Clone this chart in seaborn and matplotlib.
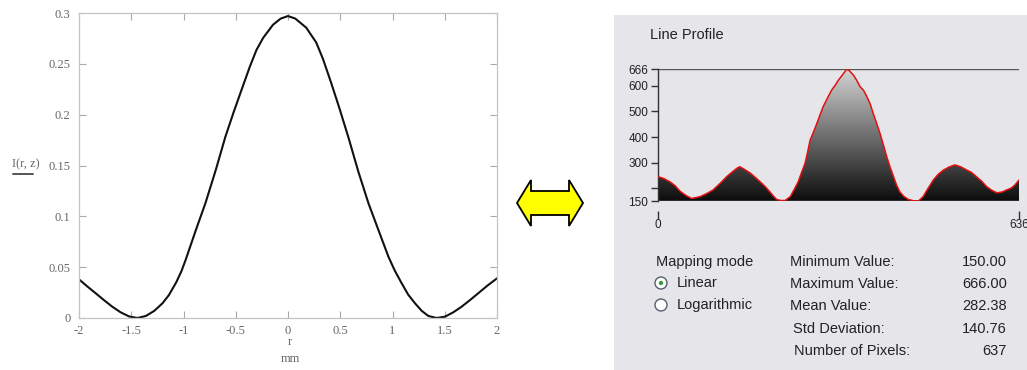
import numpy as np
import pandas as pd
import matplotlib
matplotlib.use("Agg")
import matplotlib.pyplot as plt
import seaborn as sns
from matplotlib.patches import Polygon, Circle, Rectangle
from matplotlib.colors import LinearSegmentedColormap

# ---------------- data ----------------
r_mm = [-2.0, -1.92, -1.84, -1.76, -1.68, -1.60, -1.52, -1.44, -1.36, -1.28, -1.20,
        -1.14, -1.07, -1.02, -0.98, -0.88, -0.79, -0.69, -0.60, -0.525, -0.446, -0.366,
        -0.302, -0.238, -0.143, -0.07, 0.0, 0.07, 0.175, 0.27, 0.334, 0.414, 0.493,
        0.58, 0.67, 0.77, 0.865, 0.961, 1.02, 1.088, 1.15, 1.216, 1.28, 1.343, 1.422,
        1.502, 1.58, 1.66, 1.74, 1.82, 1.91, 2.0]
intensity = [0.038, 0.031, 0.0243, 0.0175, 0.011, 0.0055, 0.0015, 0.0, 0.002, 0.007, 0.0146,
             0.0225, 0.035, 0.046, 0.057, 0.087, 0.113, 0.146, 0.178, 0.201, 0.224, 0.247,
             0.2636, 0.2755, 0.2885, 0.2945, 0.297, 0.2945, 0.2855, 0.271, 0.255, 0.231, 0.206,
             0.177, 0.145, 0.1128, 0.0866, 0.0603, 0.047, 0.0341, 0.023, 0.0144, 0.007, 0.002, 0.0,
             0.0013, 0.0055, 0.011, 0.0175, 0.0243, 0.032, 0.039]
x_ticks_left = [-2, -1.5, -1, -0.5, 0, 0.5, 1, 1.5, 2]
x_ticklabels_left = ["-2", "-1.5", "-1", "-0.5", "0", "0.5", "1", "1.5", "2"]
y_ticks_left = [0, 0.05, 0.1, 0.15, 0.2, 0.25, 0.3]
y_ticklabels_left = ["0", "0.05", "0.1", "0.15", "0.2", "0.25", "0.3"]

pixel_idx = [0, 10, 21, 30, 39, 49, 59, 66, 74, 85, 97, 110, 121, 130, 139, 144, 152, 162,
             171, 180, 189, 197, 203, 209, 216, 224, 233, 240, 247, 253, 259, 263, 268, 274,
             280, 286, 291, 298, 306, 312, 318, 324, 329, 333, 337, 340, 344, 350, 356, 362,
             368, 374, 379, 385, 391, 397, 403, 409, 415, 420, 426, 433,
             441, 450, 459, 467, 476, 485, 494, 503, 513, 523, 533, 544, 552, 561, 570, 579,
             588, 597, 606, 614, 622, 629, 636]
profile = [245, 238, 225, 210, 188, 172, 160, 163, 167, 178, 193, 220, 245, 262, 278, 284, 274, 260,
           243, 225, 206, 186, 170, 156, 152, 152, 167, 195, 225, 262, 297, 335, 388, 420,
           454, 490, 519, 550, 584, 602, 623, 640, 655, 666, 660, 652, 643, 622, 597, 583,
           558, 528, 493, 455, 415, 370, 323, 282, 245, 214, 186, 168,
           156, 151, 150, 167, 200, 232, 255, 271, 283, 291, 284, 271, 262, 245, 228, 206,
           192, 182, 185, 193, 200, 213, 232]
y_ticks_right = [150, 200, 300, 400, 500, 600, 666]
y_ticklabels_right = ["150", "", "300", "400", "500", "600", "666"]
x_ticks_right = [0, 636]

stat_names = ["Minimum Value:", "Maximum Value:", "Mean Value:", "Std Deviation:", "Number of Pixels:"]
stat_values = ["150.00", "666.00", "282.38", "140.76", "637"]
mapping_modes = ["Linear", "Logarithmic"]

# ---------------- figure ----------------
sns.set_theme(style="white")
plt.rcParams["font.family"] = ["Liberation Sans", "DejaVu Sans"]

W, H = 1027, 370
fig = plt.figure(figsize=(W / 100, H / 100), dpi=100)
fig.patch.set_facecolor("white")

def fx(px):
    return px / W

def fy(py):
    return 1 - py / H

# ---- left chart ----
ax1 = fig.add_axes([fx(79), fy(318), fx(497) - fx(79), fy(13) - fy(318)])
df1 = pd.DataFrame({"r": r_mm, "I": intensity})
sns.lineplot(data=df1, x="r", y="I", ax=ax1, color="#111111", linewidth=1.5)
ax1.set_xlim(-2, 2)
ax1.set_ylim(0, 0.3)
ax1.set_xticks(x_ticks_left)
ax1.set_xticklabels(x_ticklabels_left)
ax1.set_yticks(y_ticks_left)
ax1.set_yticklabels(y_ticklabels_left)
serif = ["Liberation Serif", "DejaVu Serif"]
tcol = "#666666"
for lab in ax1.get_xticklabels() + ax1.get_yticklabels():
    lab.set_family(serif)
    lab.set_fontsize(9)
    lab.set_color(tcol)
ax1.tick_params(axis="both", direction="in", length=5, width=0.8, color="#aaaaaa",
                top=True, right=True, bottom=True, left=True)
ax1.tick_params(axis="x", pad=5)
ax1.tick_params(axis="y", pad=6)
for s in ax1.spines.values():
    s.set_color("#c4c4c4")
    s.set_linewidth(0.9)
ax1.set_xlabel("")
ax1.set_ylabel("")
ax1.set_facecolor("white")
fig.text(fx(290), fy(342), "r", family=serif, fontsize=9, color=tcol, ha="center", va="center")
fig.text(fx(290), fy(359), "mm", family=serif, fontsize=9, color=tcol, ha="center", va="center")
fig.text(fx(26), fy(164), "I(r, z)", family=serif, fontsize=9, color=tcol, ha="center", va="center")
fig.add_artist(plt.Line2D([fx(13), fx(33)], [fy(173.5), fy(173.5)], color="#555555", lw=1.4))

# ---- double arrow ----
arrow_pts = [(517, 203), (531, 180), (531, 191), (569, 191), (569, 180), (583, 203),
             (569, 226), (569, 215), (531, 215), (531, 226)]
fig.add_artist(Polygon([(fx(x), fy(y)) for x, y in arrow_pts], closed=True,
                       facecolor="#ffff00", edgecolor="black", lw=1.3, transform=fig.transFigure))

# ---- right panel background ----
panel_bg = "#e6e6ea"
fig.add_artist(Rectangle((fx(614), 0), 1 - fx(614), fy(15), facecolor=panel_bg,
                         edgecolor="none", transform=fig.transFigure, zorder=0))
fig.text(fx(650), fy(35), "Line Profile", fontsize=10.5, color="#222222", ha="left", va="center")

ax2 = fig.add_axes([fx(658), fy(201), fx(1019) - fx(658), fy(69) - fy(201)])
ax2.set_facecolor(panel_bg)
ax2.set_xlim(0, 636)
ax2.set_ylim(150, 666)
poly = ax2.fill_between(pixel_idx, profile, 150, color="none", linewidth=0)
grad = np.linspace(0, 1, 256).reshape(-1, 1)
cmap = LinearSegmentedColormap.from_list("g", ["#0c0c0c", "#d4d4d4"])
im = ax2.imshow(grad, extent=[0, 636, 150, 666], origin="lower", aspect="auto", cmap=cmap, zorder=1)
im.set_clip_path(poly.get_paths()[0], transform=ax2.transData)
df2 = pd.DataFrame({"i": pixel_idx, "v": profile})
sns.lineplot(data=df2, x="i", y="v", ax=ax2, color="#e41010", linewidth=1.1, zorder=3)
ax2.axhline(666, color="#555555", lw=1.0, zorder=2)
ax2.axhline(150, color="#333333", lw=1.2, zorder=2)
ax2.set_xlabel("")
ax2.set_ylabel("")
ax2.set_yticks(y_ticks_right)
ax2.set_yticklabels(y_ticklabels_right)
ax2.set_xticks(x_ticks_right)
ax2.set_xticklabels([str(v) for v in x_ticks_right])
ax2.tick_params(axis="y", direction="out", length=5, width=1, color="#333333",
                labelsize=8.5, labelcolor="#222222", pad=2, left=True)
ax2.tick_params(axis="x", direction="out", length=6, width=1, color="#333333",
                labelsize=8.5, labelcolor="#222222", pad=0, bottom=True)
for name in ["top", "right"]:
    ax2.spines[name].set_visible(False)
ax2.spines["left"].set_color("#333333")
ax2.spines["left"].set_linewidth(1.0)
ax2.spines["bottom"].set_position(("outward", 7))
ax2.spines["bottom"].set_visible(False)
ax2.grid(False)

# ---- mapping mode & stats ----
fs = 10.5
fig.text(fx(656), fy(262), "Mapping mode", fontsize=fs, color="#222222", ha="left", va="center")
for k, mode in enumerate(mapping_modes):
    yy = 283 + 22 * k
    fig.add_artist(Circle((661 / 100, (H - yy) / 100), 0.06, transform=fig.dpi_scale_trans,
                          facecolor="white", edgecolor="#556070", lw=1.0))
    if k == 0:
        fig.add_artist(Circle((661 / 100, (H - yy) / 100), 0.022, transform=fig.dpi_scale_trans,
                              facecolor="#3c9a3c", edgecolor="none"))
    fig.text(fx(677), fy(yy), mode, fontsize=fs, color="#222222", ha="left", va="center")

stat_x = [790, 790, 790, 793, 794]
stat_y = [262, 284, 306, 329, 351]
for name, val, sx, sy in zip(stat_names, stat_values, stat_x, stat_y):
    fig.text(fx(sx), fy(sy), name, fontsize=fs, color="#222222", ha="left", va="center")
    fig.text(fx(1007), fy(sy), val, fontsize=fs, color="#222222", ha="right", va="center")

fig.savefig("out.png", dpi=100)
